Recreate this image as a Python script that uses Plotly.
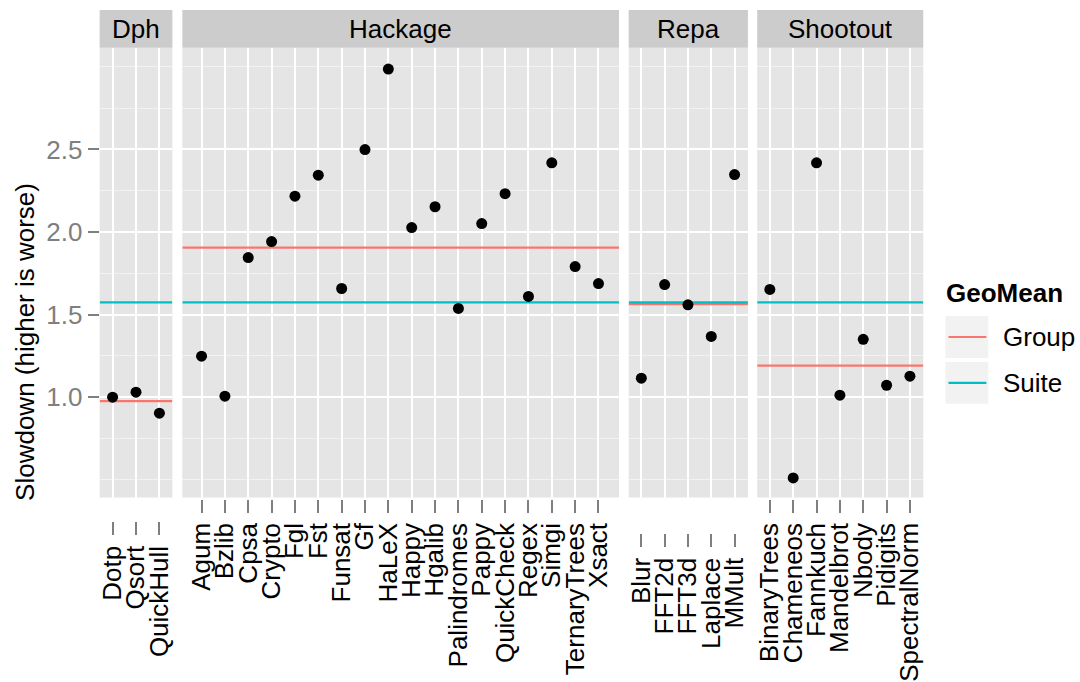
import plotly.graph_objects as go

W, H = 1080, 682

# ---------------- data ----------------
groups = ["Dph", "Hackage", "Repa", "Shootout"]

dph_names = ["Dotp", "Qsort", "QuickHull"]
dph_vals = [1.00, 1.03, 0.903]

hackage_names = ["Agum", "Bzlib", "Cpsa", "Crypto", "Fgl", "Fst", "Funsat", "Gf", "HaLeX",
                 "Happy", "Hgalib", "Palindromes", "Pappy", "QuickCheck", "Regex", "Simgi",
                 "TernaryTrees", "Xsact"]
hackage_vals = [1.248, 1.006, 1.845, 1.942, 2.217, 2.344, 1.658, 2.499, 2.987,
                2.027, 2.153, 1.537, 2.051, 2.232, 1.610, 2.419, 1.791, 1.688]

repa_names = ["Blur", "FFT2d", "FFT3d", "Laplace", "MMult"]
repa_vals = [1.115, 1.682, 1.559, 1.368, 2.348]

shootout_names = ["BinaryTrees", "Chameneos", "Fannkuch", "Mandelbrot", "Nbody", "Pidigits",
                  "SpectralNorm"]
shootout_vals = [1.652, 0.511, 2.419, 1.012, 1.350, 1.072, 1.127]

group_geomean = [0.976, 1.905, 1.563, 1.191]
suite_geomean = 1.574

y_ticks = [1.0, 1.5, 2.0, 2.5]
y_ticktext = ["1.0", "1.5", "2.0", "2.5"]
y_minor = [0.5, 0.75, 1.25, 1.75, 2.25, 2.75, 3.0]

legend_title = "GeoMean"
legend_labels = ["Group", "Suite"]

# ---------------- layout helpers ----------------
FONT = "Liberation Sans, Arial, Helvetica, sans-serif"
GROUP_COL = "#F8766D"
SUITE_COL = "#00BFC4"

def px_x(p):
    return p / W

def px_y(p):
    return 1 - p / H

panel_top, panel_bot = 48, 499
ydom = [px_y(panel_bot), px_y(panel_top)]
yrange = [0.392, 3.1153]

panels = [
    dict(names=dph_names, vals=dph_vals, xpx=(97, 170), xr=[-0.553, 2.553], axpos=523),
    dict(names=hackage_names, vals=hackage_vals, xpx=(180, 618.3), xr=[-0.823, 17.879], axpos=500),
    dict(names=repa_names, vals=repa_vals, xpx=(628, 747.7), xr=[-0.543, 4.573], axpos=535),
    dict(names=shootout_names, vals=shootout_vals, xpx=(757, 923.7), xr=[-0.542, 6.572], axpos=500),
]

fig = go.Figure()
layout = dict(
    width=W, height=H,
    margin=dict(l=0, r=0, t=0, b=0),
    paper_bgcolor="white",
    plot_bgcolor="#E5E5E5",
    showlegend=False,
    font=dict(family=FONT, size=26, color="black"),
)
shapes = []
annotations = []

for i, p in enumerate(panels):
    k = "" if i == 0 else str(i + 1)
    xa, ya = "x" + k, "y" + k
    pos = list(range(len(p["names"])))
    # geomean lines (group first, suite on top), then points above them
    fig.add_trace(go.Scatter(x=p["xr"], y=[group_geomean[i]] * 2, mode="lines",
                             line=dict(color=GROUP_COL, width=2.2), xaxis=xa, yaxis=ya,
                             hoverinfo="skip"))
    fig.add_trace(go.Scatter(x=p["xr"], y=[suite_geomean] * 2, mode="lines",
                             line=dict(color=SUITE_COL, width=2.2), xaxis=xa, yaxis=ya,
                             hoverinfo="skip"))
    fig.add_trace(go.Scatter(
        x=pos, y=p["vals"], mode="markers", text=p["names"],
        marker=dict(color="black", size=11),
        xaxis=xa, yaxis=ya, hoverinfo="text+y",
    ))
    layout["xaxis" + k] = dict(
        domain=[px_x(p["xpx"][0]), px_x(p["xpx"][1])],
        type="linear", range=p["xr"],
        tickmode="array", tickvals=pos, ticktext=p["names"],
        anchor="free", position=px_y(p["axpos"]),
        showgrid=True, gridcolor="white", gridwidth=2,
        ticks="outside", ticklen=13, tickwidth=2, tickcolor="#7F7F7F",
        tickangle=-90, tickfont=dict(family=FONT, size=26, color="black"),
        showline=False, zeroline=False, fixedrange=True,
    )
    layout["yaxis" + k] = dict(
        domain=ydom, range=yrange, anchor=xa,
        tickmode="array", tickvals=y_ticks, ticktext=y_ticktext,
        showgrid=True, gridcolor="white", gridwidth=2,
        minor=dict(tickmode="array", tickvals=y_minor, showgrid=True,
                   gridcolor="#F2F2F2", gridwidth=1, ticks=""),
        ticks="outside" if i == 0 else "", ticklen=11, tickwidth=2, tickcolor="#7F7F7F",
        showticklabels=(i == 0),
        tickfont=dict(family=FONT, size=26, color="#7F7F7F"),
        showline=False, zeroline=False, fixedrange=True,
    )
    # strip
    shapes.append(dict(type="rect", xref="paper", yref="paper",
                       x0=px_x(p["xpx"][0]), x1=px_x(p["xpx"][1]),
                       y0=px_y(48), y1=px_y(10), fillcolor="#CCCCCC", line=dict(width=0)))
    annotations.append(dict(text=groups[i], xref="paper", yref="paper",
                            x=px_x((p["xpx"][0] + p["xpx"][1]) / 2), y=px_y(29),
                            xanchor="center", yanchor="middle", showarrow=False,
                            font=dict(family=FONT, size=26, color="black")))

# y axis title
annotations.append(dict(text="Slowdown (higher is worse)", xref="paper", yref="paper",
                        x=px_x(22), y=px_y(343), textangle=-90, xanchor="center",
                        yanchor="middle", showarrow=False,
                        font=dict(family=FONT, size=26, color="black")))

# legend
annotations.append(dict(text="<b>%s</b>" % legend_title, xref="paper", yref="paper",
                        x=px_x(944), y=px_y(294), xanchor="left", yanchor="middle",
                        showarrow=False, font=dict(family=FONT, size=26, color="black")))
for j, (lab, col, cy) in enumerate(zip(legend_labels, [GROUP_COL, SUITE_COL], [338, 384])):
    shapes.append(dict(type="rect", xref="paper", yref="paper",
                       x0=px_x(946), x1=px_x(989), y0=px_y(cy + 21), y1=px_y(cy - 21),
                       fillcolor="#F2F2F2", line=dict(width=0)))
    shapes.append(dict(type="line", xref="paper", yref="paper",
                       x0=px_x(949), x1=px_x(987), y0=px_y(cy), y1=px_y(cy),
                       line=dict(color=col, width=2.2)))
    annotations.append(dict(text=lab, xref="paper", yref="paper",
                            x=px_x(1002), y=px_y(cy), xanchor="left", yanchor="middle",
                            showarrow=False, font=dict(family=FONT, size=26, color="black")))

layout["shapes"] = shapes
layout["annotations"] = annotations
fig.update_layout(**layout)

fig.write_html("out.html", config={"displayModeBar": False},
               post_script="document.body.style.margin='0px';")
